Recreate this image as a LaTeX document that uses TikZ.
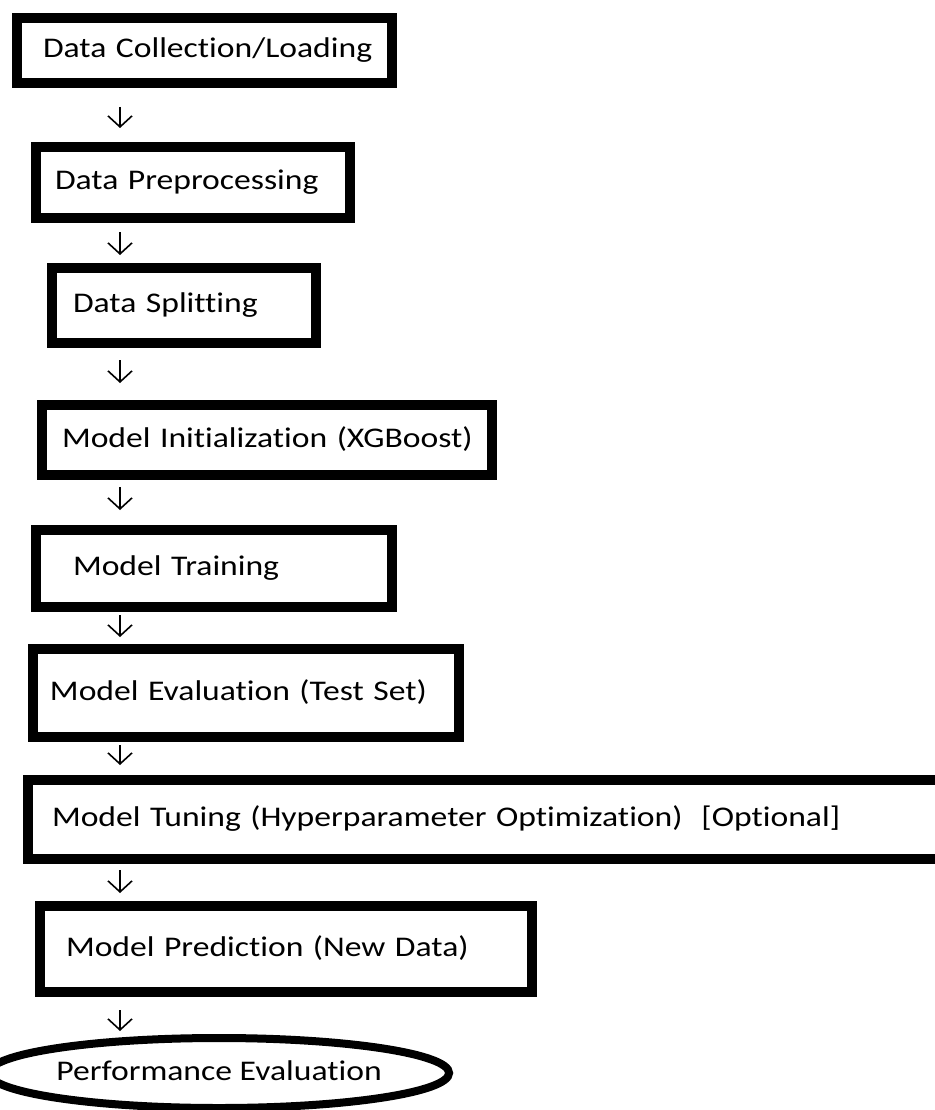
\documentclass[tikz,border=0pt]{standalone}
\usepackage{fontspec}
\setmainfont{Carlito}[FakeStretch=1.18,Ligatures=CommonOff]
\usetikzlibrary{arrows.meta,shapes.geometric}

\begin{document}
\begin{tikzpicture}[x=1pt,y=-1pt,
  font=\fontsize{28.5}{34}\selectfont,
  stepbox/.style={draw=black,line width=10pt,anchor=north west,align=left,
    inner xsep=0pt,inner ysep=0pt,outer sep=0pt,text height=20pt,text depth=6pt},
  endbox/.style={ellipse,draw=black,line width=8pt,inner sep=0pt,outer sep=0pt,
    text height=20pt,text depth=6pt},
  flow/.style={line width=1.6pt,-{Straight Barb[length=11pt,width=24pt]}}]
  \useasboundingbox (0,0) rectangle (934,1110);
  \coordinate (ax) at (120,0);
  % steps, top to bottom
  \node[stepbox,text width=375pt,minimum height=65pt] (load) at (17,18)
    {\hspace*{26pt}Data Collection/Loading};
  \node[stepbox,text width=314pt,minimum height=71pt] (prep) at (36,147)
    {\hspace*{19pt}Data Preprocessing};
  \node[stepbox,text width=264pt,minimum height=75pt] (split) at (52,268)
    {\hspace*{21pt}Data Splitting};
  \node[stepbox,text width=450pt,minimum height=70pt] (init) at (42,405)
    {\hspace*{20pt}Model Initialization (XGBoost)};
  \node[stepbox,text width=356pt,minimum height=77pt] (train) at (36,530)
    {\hspace*{37pt}Model Training};
  \node[stepbox,text width=426pt,minimum height=88pt] (test) at (33,649)
    {\hspace*{17pt}Model Evaluation (Test Set)};
  \node[stepbox,text width=916pt,minimum height=79pt] (tune) at (28,780)
    {\hspace*{24pt}Model Tuning (Hyperparameter Optimization)\ \ [Optional]};
  \node[stepbox,text width=492pt,minimum height=86pt] (pred) at (40,906)
    {\hspace*{26pt}Model Prediction (New Data)};
  \node[endbox,minimum width=420pt,minimum height=70pt] (perf) at (219,1073)
    {Performance Evaluation};
  % arrows between the steps
  \foreach \sa/\sb/\ga/\gb in {load/prep/24/19,prep/split/14/13,split/init/17/22,
      init/train/12/20,train/test/8/12,test/tune/8/15,tune/pred/11/13,pred/perf/18/7}
    \draw[flow,shorten <=\ga pt,shorten >=\gb pt] (\sa.south -| ax) -- (\sb.north -| ax);
\end{tikzpicture}
\end{document}
